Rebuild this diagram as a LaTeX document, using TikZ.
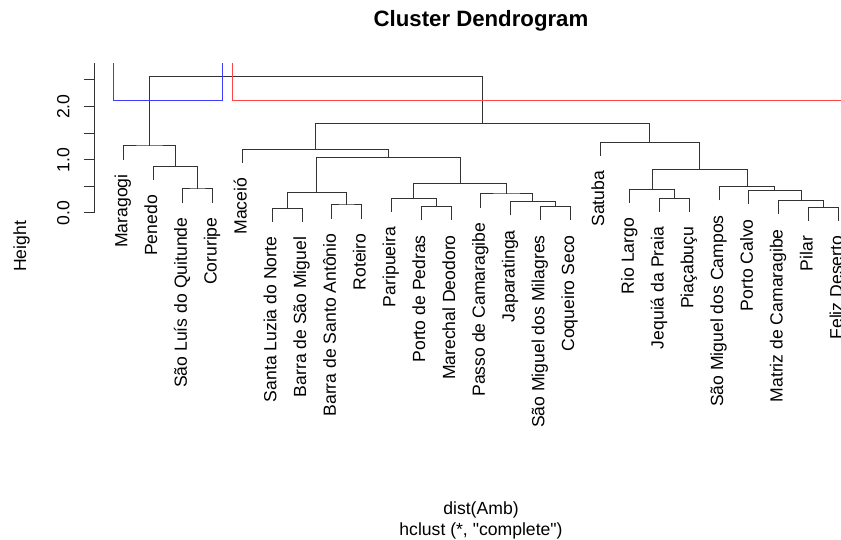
\documentclass[tikz,border=0pt]{standalone}
\usepackage{fontspec}
\setmainfont{Liberation Sans}
\newfontfamily\qfont{Liberation Sans}[Ligatures=TeXOff]
\definecolor{rblue}{RGB}{60,60,255}
\definecolor{rred}{RGB}{255,70,70}
\begin{document}
\begin{tikzpicture}[x=1pt,y=-1pt,
  tree/.style={draw=black!80, line width=1pt},
  axisline/.style={draw=black!80, line width=1pt},
  leaflab/.style={rotate=90, anchor=base east, inner sep=0pt, font=\fontsize{17.6}{20}\selectfont},
  ticklab/.style={rotate=90, anchor=center, inner sep=0pt, font=\fontsize{17.6}{20}\selectfont},
  plaintext/.style={inner sep=0pt, font=\fontsize{17.6}{20}\selectfont},
  titletext/.style={inner sep=0pt, anchor=base, font=\fontsize{22.2}{25}\selectfont\bfseries},
  cutbox/.style={line width=1.3pt}]
\useasboundingbox (0,0) rectangle (841,540);
\clip (0,0) rectangle (841,540);

% leaves (lower ends of the leaf lines)
\coordinate (l1) at (123.3,159.6);
\coordinate (l2) at (153.1,180.3);
\coordinate (l3) at (182.9,202.6);
\coordinate (l4) at (212.7,202.6);
\coordinate (l5) at (242.5,162.9);
\coordinate (l6) at (272.3,221.9);
\coordinate (l7) at (302.0,221.9);
\coordinate (l8) at (331.8,218.6);
\coordinate (l9) at (361.6,218.6);
\coordinate (l10) at (391.4,211.9);
\coordinate (l11) at (421.2,220.3);
\coordinate (l12) at (451.0,220.3);
\coordinate (l13) at (480.8,207.6);
\coordinate (l14) at (510.6,215.3);
\coordinate (l15) at (540.4,220.3);
\coordinate (l16) at (570.2,220.3);
\coordinate (l17) at (600.0,155.9);
\coordinate (l18) at (629.8,202.9);
\coordinate (l19) at (659.6,211.9);
\coordinate (l20) at (689.3,211.9);
\coordinate (l21) at (719.1,200.3);
\coordinate (l22) at (748.9,204.3);
\coordinate (l23) at (778.7,214.3);
\coordinate (l24) at (808.5,220.9);
\coordinate (l25) at (838.3,220.9);

% merges
\coordinate (mA) at (197.8,189.0);
\coordinate (mB) at (175.45,166.7);
\coordinate (mC) at (149.4,146.0);
\coordinate (mD) at (287.15,208.3);
\coordinate (mE) at (346.7,205.0);
\coordinate (mF) at (316.9,192.7);
\coordinate (mG) at (436.1,206.7);
\coordinate (mH) at (413.75,198.3);
\coordinate (mI) at (555.3,206.7);
\coordinate (mJ) at (532.95,201.7);
\coordinate (mK) at (506.9,194.0);
\coordinate (mL) at (460.3,183.3);
\coordinate (mM) at (388.6,157.3);
\coordinate (mN) at (315.55,149.3);
\coordinate (mO) at (674.45,198.3);
\coordinate (mP) at (652.1,189.3);
\coordinate (mQ) at (823.4,207.3);
\coordinate (mR) at (801.05,200.7);
\coordinate (mS) at (774.97,190.7);
\coordinate (mT) at (747.0,186.7);
\coordinate (mU) at (699.55,169.3);
\coordinate (mV) at (649.8,142.3);
\coordinate (mW) at (482.7,123.3);
\coordinate (mRoot) at (316.0,76.7);

% dendrogram
\draw[tree] (l3) |- (mA) -| (l4);
\draw[tree] (l2) |- (mB) -| (mA);
\draw[tree] (l1) |- (mC) -| (mB);
\draw[tree] (l6) |- (mD) -| (l7);
\draw[tree] (l8) |- (mE) -| (l9);
\draw[tree] (mD) |- (mF) -| (mE);
\draw[tree] (l11) |- (mG) -| (l12);
\draw[tree] (l10) |- (mH) -| (mG);
\draw[tree] (l15) |- (mI) -| (l16);
\draw[tree] (l14) |- (mJ) -| (mI);
\draw[tree] (l13) |- (mK) -| (mJ);
\draw[tree] (mH) |- (mL) -| (mK);
\draw[tree] (mF) |- (mM) -| (mL);
\draw[tree] (l5) |- (mN) -| (mM);
\draw[tree] (l19) |- (mO) -| (l20);
\draw[tree] (l18) |- (mP) -| (mO);
\draw[tree] (l24) |- (mQ) -| (l25);
\draw[tree] (l23) |- (mR) -| (mQ);
\draw[tree] (l22) |- (mS) -| (mR);
\draw[tree] (l21) |- (mT) -| (mS);
\draw[tree] (mP) |- (mU) -| (mT);
\draw[tree] (l17) |- (mV) -| (mU);
\draw[tree] (mN) |- (mW) -| (mV);
\draw[tree] (mC) |- (mRoot) -| (mW);

% leaf labels
\foreach \i/\t in {1/Maragogi, 2/Penedo, 3/São Luís do Quitunde, 4/Coruripe,
  5/Maceió, 6/Santa Luzia do Norte, 7/Barra de São Miguel, 8/Barra de Santo Antônio,
  9/Roteiro, 10/Paripueira, 11/Porto de Pedras, 12/Marechal Deodoro,
  13/Passo de Camaragibe, 14/Japaratinga, 15/São Miguel dos Milagres, 16/Coqueiro Seco,
  17/Satuba, 18/Rio Largo, 19/Jequiá da Praia, 20/Piaçabuçu,
  21/São Miguel dos Campos, 22/Porto Calvo, 23/Matriz de Camaragibe, 24/Pilar, 25/Feliz Deserto}
  \node[leaflab] (t\i) at ([shift={(4pt,-14.7pt)}]l\i) {\t};

% cut boxes
\draw[cutbox, rblue] (113.5,63.3) -- (113.5,100.5) -- (222.5,100.5) -- (222.5,63.3);
\draw[cutbox, rred] (232.5,63.3) -- (232.5,100.5) -- (848,100.5) -- (848,63.3);

% axis
\coordinate (atop) at (94.5,63.3);
\coordinate (abot) at (94.5,213.0);
\draw[axisline] (atop) -- (abot);
\foreach \yy in {213.0,186.4,159.8,133.2,106.6,80.0}
  \draw[axisline] (83.5,\yy) -- (94.5,\yy);
\node[ticklab] (y0) at (63.3,213.0) {0.0};
\node[ticklab] (y1) at (63.3,159.8) {1.0};
\node[ticklab] (y2) at (63.3,106.6) {2.0};
\node[rotate=90, anchor=base, inner sep=0pt, font=\fontsize{17.6}{20}\selectfont] (ht) at (26.0,246.5) {Height};

% titles
\node[titletext] (title) at (481,27) {Cluster Dendrogram};
\node[plaintext, anchor=base] (sub1) at (481,514) {dist(Amb)};
\node[plaintext, anchor=base] (sub2) at (481,535) {hclust (*, {\qfont"}complete{\qfont"})};
\end{tikzpicture}
\end{document}
